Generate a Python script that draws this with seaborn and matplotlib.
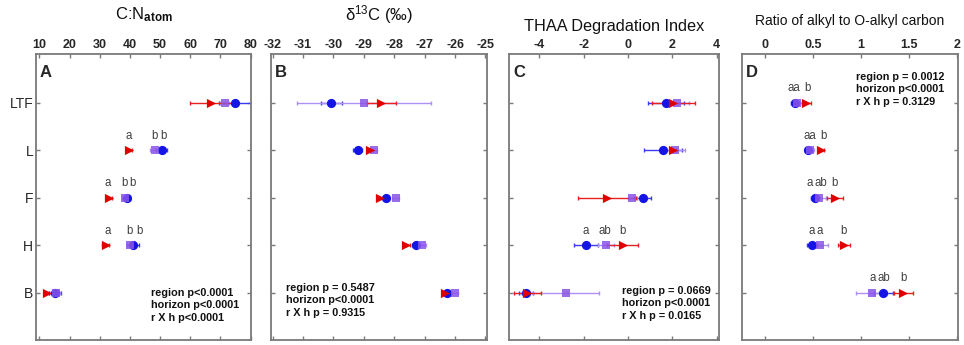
import numpy as np
import pandas as pd
import matplotlib
matplotlib.use("Agg")
import matplotlib.pyplot as plt
import seaborn as sns

# ---------------- data ----------------
rows = ["LTF", "L", "F", "H", "B"]

# Panel A: C:N atom
cn_red_mean = [67.0, 39.8, 33.2, 31.9, 12.4]
cn_red_se = [7.0, 0.8, 0.9, 1.2, 0.7]
cn_pur_mean = [71.5, 48.4, 38.4, 40.0, 15.6]
cn_pur_se = [1.5, 1.8, 0.9, 1.0, 1.2]
cn_blu_mean = [74.9, 50.6, 39.1, 41.0, 15.2]
cn_blu_se = [5.5, 1.8, 1.0, 2.0, 2.0]

# Panel B: d13C
dc_red_mean = [-28.42, -28.78, -28.47, -27.60, -26.32]
dc_red_se = [0.48, 0.08, 0.10, 0.12, 0.08]
dc_pur_mean = [-29.00, -28.66, -27.95, -27.10, -26.00]
dc_pur_se = [2.20, 0.10, 0.12, 0.15, 0.10]
dc_blu_mean = [-30.07, -29.20, -28.28, -27.30, -26.28]
dc_blu_se = [0.35, 0.15, 0.10, 0.10, 0.08]

# Panel C: THAA degradation index
di_red_mean = [2.05, 2.05, -0.94, -0.24, -4.54]
di_red_se = [0.97, 0.12, 1.32, 0.69, 0.60]
di_pur_mean = [2.20, 2.13, 0.19, -1.00, -2.79]
di_pur_se = [0.57, 0.42, 0.20, 0.35, 1.50]
di_blu_mean = [1.71, 1.56, 0.67, -1.89, -4.59]
di_blu_se = [0.81, 0.86, 0.38, 0.55, 0.30]

# Panel D: alkyl / O-alkyl
ak_red_mean = [0.43, 0.58, 0.73, 0.82, 1.44]
ak_red_se = [0.05, 0.03, 0.08, 0.06, 0.10]
ak_pur_mean = [0.33, 0.47, 0.56, 0.57, 1.11]
ak_pur_se = [0.06, 0.04, 0.08, 0.09, 0.16]
ak_blu_mean = [0.31, 0.45, 0.52, 0.49, 1.23]
ak_blu_se = [0.04, 0.03, 0.04, 0.05, 0.10]

# significance letters: (row, x, text)
cn_letters = [("L", 39.5, "a"), ("L", 48.0, "b"), ("L", 51.0, "b"),
              ("F", 32.5, "a"), ("F", 38.1, "b"), ("F", 40.7, "b"),
              ("H", 32.5, "a"), ("H", 39.8, "b"), ("H", 43.0, "b")]
dc_letters = []
di_letters = [("H", -1.89, "a"), ("H", -1.05, "ab"), ("H", -0.24, "b")]
ak_letters = [("LTF", 0.30, "aa"), ("LTF", 0.44, "b"),
              ("L", 0.47, "aa"), ("L", 0.61, "b"),
              ("F", 0.46, "a"), ("F", 0.58, "ab"), ("F", 0.72, "b"),
              ("H", 0.49, "a"), ("H", 0.57, "a"), ("H", 0.82, "b"),
              ("B", 1.12, "a"), ("B", 1.24, "ab"), ("B", 1.44, "b")]

cn_stats = ["region p<0.0001", "horizon p<0.0001", "r X h p<0.0001"]
dc_stats = ["region p = 0.5487", "horizon p<0.0001", "r X h p = 0.9315"]
di_stats = ["region p = 0.0669", "horizon p<0.0001", "r X h p = 0.0165"]
ak_stats = ["region p = 0.0012", "horizon p<0.0001", "r X h p = 0.3129"]

titles = [r"C:N$_{\mathbf{atom}}$", r"δ$^{13}$C (‰)", "THAA Degradation Index",
          "Ratio of alkyl to O-alkyl carbon"]
letters_panel = ["A", "B", "C", "D"]
xticks = [[10, 20, 30, 40, 50, 60, 70, 80],
          [-32, -31, -30, -29, -28, -27, -26, -25],
          [-4, -2, 0, 2, 4],
          [0, 0.5, 1, 1.5, 2]]
xticklabels = [[str(v) for v in xticks[0]], [str(v) for v in xticks[1]],
               [str(v) for v in xticks[2]], ["0", "0.5", "1", "1.5", "2"]]

# ---------------- style ----------------
sns.set_style("ticks")
plt.rcParams['font.family'] = ['Liberation Sans', 'DejaVu Sans']
plt.rcParams['mathtext.fontset'] = 'custom'
plt.rcParams['mathtext.rm'] = 'Liberation Sans'
plt.rcParams['mathtext.bf'] = 'Liberation Sans:bold'
plt.rcParams['mathtext.it'] = 'Liberation Sans:italic'

RED, RED_E = "#e00000", "#e82020"
PUR, PUR_E = "#8a55e6", "#ad90f2"
BLU, BLU_E = "#1414e6", "#3a3af0"
GRAY = "#7a7a7a"

W, H = 964, 345
fig = plt.figure(figsize=(9.64, 3.45), dpi=100)
boxes = [(36, 251), (271, 487), (509, 719), (742, 958)]
top_px, bot_px = 54, 340
xlims = [(8.85, 80.15), (-32.05, -24.95), (-5.36, 4.1), (-0.24, 2.01)]
title_pad = [35, 34, 23, 29]
title_size = [12, 12, 11.7, 10]
stats_pos = [(150.7, 293), (286, 288), (621.7, 291), (856, 77)]

panels = [
    (cn_red_mean, cn_red_se, cn_pur_mean, cn_pur_se, cn_blu_mean, cn_blu_se, cn_letters, cn_stats),
    (dc_red_mean, dc_red_se, dc_pur_mean, dc_pur_se, dc_blu_mean, dc_blu_se, dc_letters, dc_stats),
    (di_red_mean, di_red_se, di_pur_mean, di_pur_se, di_blu_mean, di_blu_se, di_letters, di_stats),
    (ak_red_mean, ak_red_se, ak_pur_mean, ak_pur_se, ak_blu_mean, ak_blu_se, ak_letters, ak_stats),
]

ypos = np.arange(len(rows))
row_idx = {r: i for i, r in enumerate(rows)}

for k, (rm, rs, pm, ps, bm, bs, lets, stats) in enumerate(panels):
    l, r = boxes[k]
    ax = fig.add_axes([l / W, (H - bot_px) / H, (r - l) / W, (bot_px - top_px) / H])
    ax.set_xlim(*xlims[k])
    ax.set_ylim(4.99, -1.03)

    # error bars
    ax.errorbar(bm, ypos, xerr=bs, fmt='none', ecolor=BLU_E, elinewidth=1.0,
                capsize=1.6, capthick=1.0, zorder=2)
    ax.errorbar(pm, ypos, xerr=ps, fmt='none', ecolor=PUR_E, elinewidth=1.0,
                capsize=1.6, capthick=1.0, zorder=2)
    ax.errorbar(rm, ypos, xerr=rs, fmt='none', ecolor=RED_E, elinewidth=1.0,
                capsize=1.6, capthick=1.0, zorder=2)

    df_b = pd.DataFrame({"x": bm, "y": ypos})
    df_p = pd.DataFrame({"x": pm, "y": ypos})
    df_r = pd.DataFrame({"x": rm, "y": ypos})
    sns.scatterplot(data=df_b, x="x", y="y", marker="o", color=BLU, s=44,
                    linewidth=0, ax=ax, zorder=3, legend=False)
    sns.scatterplot(data=df_p, x="x", y="y", marker="s", color=PUR, s=28,
                    linewidth=0, alpha=0.85, ax=ax, zorder=4, legend=False)
    sns.scatterplot(data=df_r, x="x", y="y", marker=">", color=RED, s=44,
                    linewidth=0, ax=ax, zorder=5, legend=False)

    # letters
    for (rw, xv, txt) in lets:
        ax.text(xv, row_idx[rw] - 0.31, txt, ha="center", va="center",
                fontsize=8.3, color="#404040")

    # axes style
    ax.set_xlabel("")
    ax.set_ylabel("")
    ax.set_xticks(xticks[k])
    ax.set_xticklabels(xticklabels[k], fontweight="bold", fontsize=9)
    ax.set_yticks(ypos)
    if k == 0:
        ax.set_yticklabels(rows, fontsize=10)
    else:
        ax.set_yticklabels([])
    ax.tick_params(axis="both", direction="in", length=3, width=1, color=GRAY,
                   top=True, bottom=True, left=True, right=True,
                   labeltop=True, labelbottom=False, pad=2)
    for sp in ax.spines.values():
        sp.set_visible(True)
        sp.set_color(GRAY)
        sp.set_linewidth(1.3)

    # title
    ax.annotate(titles[k], xy=(0.5, 1.0), xycoords="axes fraction",
                xytext=(0, title_pad[k] * 0.72), textcoords="offset points",
                ha="center", va="baseline", fontsize=title_size[k], color="#111111")
    # panel letter
    ax.annotate(letters_panel[k], xy=(0, 1), xycoords="axes fraction",
                xytext=(4 * 0.72, -18 * 0.72), textcoords="offset points",
                ha="left", va="center", fontsize=12, fontweight="bold")
    # stats
    sx, sy = stats_pos[k]
    for j, line in enumerate(stats):
        fig.text(sx / W, 1 - (sy + j * 12.3) / H, line, ha="left", va="center",
                 fontsize=7.8, fontweight="bold", color="#111111")

fig.savefig("out.png", dpi=100)
